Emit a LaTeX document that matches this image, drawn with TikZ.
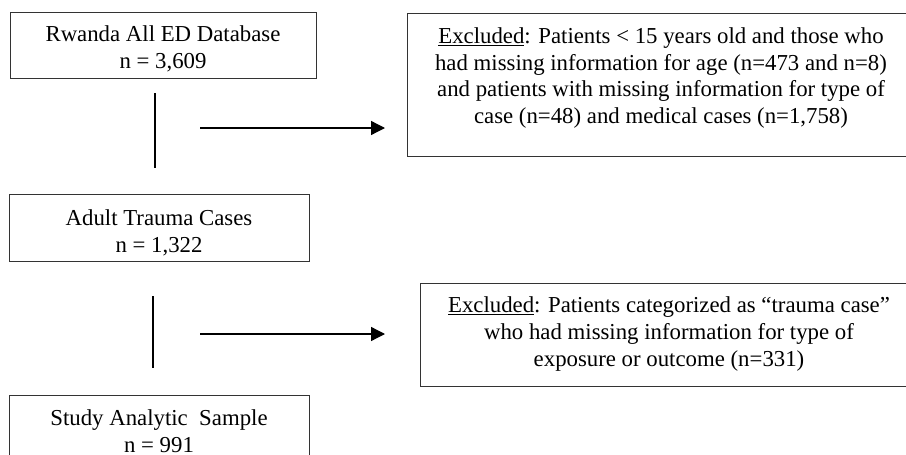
\documentclass[tikz,border=0pt]{standalone}
\usepackage{fontspec}
\setmainfont{Liberation Serif}
\usetikzlibrary{arrows.meta}
\begin{document}
\begin{tikzpicture}[x=1pt,y=-1pt,
  boxshape/.style={draw=black!80, line width=1.3pt, inner sep=0pt, anchor=north west},
  boxtext/.style={inner sep=0pt, align=center, font=\fontsize{22.8}{26.6}\selectfont},
  stem/.style={line width=2.2pt},
  exarrow/.style={line width=1.3pt, -{Triangle[length=14pt,width=14pt]}}]
\useasboundingbox (0,0) rectangle (906,455);
\clip (0,0) rectangle (906,455);
% main boxes
\node[boxshape, minimum width=306pt, minimum height=66pt] (db) at (10,12) {};
\node[boxtext] (dbt) at (163,49) {Rwanda All ED Database\\n = 3,609};
\node[boxshape, minimum width=300pt, minimum height=67pt] (adult) at (9,194) {};
\node[boxtext] (adultt) at (159,233) {Adult Trauma Cases\\n = 1,322};
\node[boxshape, minimum width=300pt, minimum height=67pt] (study) at (9,395) {};
\node[boxtext] (studyt) at (159,431) {Study Analytic\ \ Sample\\n = 991};
% exclusion boxes
\node[boxshape, minimum width=508pt, minimum height=143pt] (ex1) at (407,13) {};
\node[boxtext] (ex1t) at (661,78) {\underline{Excluded}: Patients < 15 years old and those who\\had missing information for age (n=473 and n=8)\\and patients with missing information for type of\\case (n=48) and medical cases (n=1,758)};
\node[boxshape, minimum width=498pt, minimum height=103pt] (ex2) at (420,283) {};
\node[boxtext] (ex2t) at (669,334) {\underline{Excluded}: Patients categorized as ``trauma case''\\who had missing information for type of\\exposure or outcome (n=331)};
% connectors
\coordinate (v1a) at (155,93);
\coordinate (v1b) at (155,168);
\coordinate (a1s) at (200,128);
\coordinate (a1e) at (385,128);
\coordinate (v2a) at (153,296);
\coordinate (v2b) at (153,368);
\coordinate (a2s) at (200,334);
\coordinate (a2e) at (385,334);
\draw[stem] (v1a) -- (v1b);
\draw[exarrow] (a1s) -- (a1e);
\draw[stem] (v2a) -- (v2b);
\draw[exarrow] (a2s) -- (a2e);
\end{tikzpicture}
\end{document}
